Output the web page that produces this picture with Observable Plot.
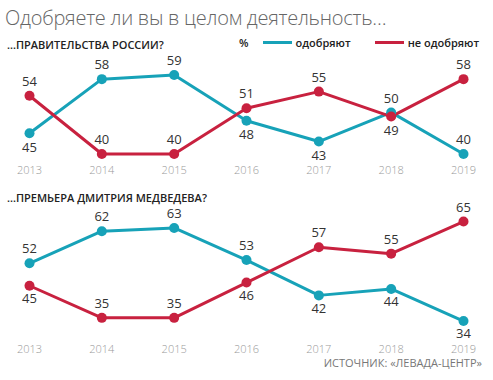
<!DOCTYPE html>
<html>
<head>
<meta charset="utf-8">
<script src="https://cdn.jsdelivr.net/npm/d3@7"></script>
<script src="https://cdn.jsdelivr.net/npm/@observablehq/plot@0.6"></script>
<style>
  body { margin: 0; background: #fff; font-family: "Open Sans", sans-serif; }
  #wrap { position: relative; width: 493px; height: 380px; overflow: hidden; }
  .abs { position: absolute; white-space: nowrap; }
  #title { left: 5px; top: 4px; font-size: 20px; font-weight: 300; color: #666; letter-spacing: -0.25px; }
  .sub { font-size: 11px; font-weight: 600; color: #222; z-index: 2; }
  #sub1 { left: 7px; top: 37px; }
  #sub2 { left: 7px; top: 190px; }
  #legend { left: 239px; top: 35px; font-size: 11px; font-weight: 600; color: #222; z-index: 2; display: flex; align-items: center; }
  .sw { display: inline-block; width: 29px; height: 3px; margin: 0 4px 0 5px; }
  #source { right: 11px; top: 356px; font-size: 11px; color: #777; font-weight: 400; line-height: 13px; }
  #p1 { left: 0; top: 52px; }
  #p2 { left: 0; top: 195px; }
</style>
</head>
<body>
<div id="wrap">
  <div id="title" class="abs">Одобряете ли вы в целом деятельность…</div>
  <div id="sub1" class="abs sub">…ПРАВИТЕЛЬСТВА РОССИИ?</div>
  <div id="legend" class="abs">
    <span style="margin-right:4px">%</span>
    <span class="sw" style="background:#17a2b8;margin-left:10px"></span><span>одобряют</span>
    <span class="sw" style="background:#c8213f;margin-left:24px"></span><span>не одобряют</span>
  </div>
  <div id="sub2" class="abs sub">…ПРЕМЬЕРА ДМИТРИЯ МЕДВЕДЕВА?</div>
  <div id="p1" class="abs"></div>
  <div id="p2" class="abs"></div>
  <div id="source" class="abs">ИСТОЧНИК: «ЛЕВАДА-ЦЕНТР»</div>
</div>
<script>
const years = [2013, 2014, 2015, 2016, 2017, 2018, 2019];
// Government
const govApprove    = [45, 58, 59, 48, 43, 50, 40];
const govDisapprove = [54, 40, 40, 51, 55, 49, 58];
const govApprovePos    = ["below", "above", "above", "below", "below", "above", "above"];
const govDisapprovePos = ["above", "above", "above", "above", "above", "below", "above"];
// Medvedev
const pmApprove    = [52, 62, 63, 53, 42, 44, 34];
const pmDisapprove = [45, 35, 35, 46, 57, 55, 65];
const pmApprovePos    = ["above", "above", "above", "above", "below", "below", "below"];
const pmDisapprovePos = ["below", "above", "above", "below", "above", "above", "above"];

const seriesNames = ["одобряют", "не одобряют"];
const colors = ["#17a2b8", "#c8213f"];

function rows(a, d, aPos, dPos) {
  const out = [];
  years.forEach((y, i) => {
    out.push({year: y, value: a[i], series: seriesNames[0], pos: aPos[i]});
    out.push({year: y, value: d[i], series: seriesNames[1], pos: dPos[i]});
  });
  return out;
}

function panel(data, yDomain, height, marginTop, marginBottom, tickPad, belowDy) {
  return Plot.plot({
    width: 493,
    height,
    marginLeft: 29,
    marginRight: 30,
    marginTop,
    marginBottom,
    style: {fontFamily: "Open Sans, sans-serif", background: "transparent"},
    x: {domain: [2013, 2019], label: null},
    y: {domain: yDomain, axis: null},
    color: {domain: seriesNames, range: colors},
    marks: [
      Plot.axisX({ticks: years, tickFormat: "d", tickSize: 0, tickPadding: tickPad, fontSize: 11, fill: "#9a9a9a", fontWeight: 300, label: null}),
      Plot.line(data, {x: "year", y: "value", stroke: "series", strokeWidth: 3}),
      Plot.dot(data, {x: "year", y: "value", fill: "series", r: 5}),
      Plot.text(data.filter(d => d.pos === "above"), {x: "year", y: "value", text: d => String(d.value), dy: -14, fontSize: 13, fill: "#333"}),
      Plot.text(data.filter(d => d.pos === "below"), {x: "year", y: "value", text: d => String(d.value), dy: belowDy, fontSize: 13, fill: "#333"})
    ]
  });
}

// panel 1: 24 units over 99.84px
document.getElementById("p1").appendChild(
  panel(rows(govApprove, govDisapprove, govApprovePos, govDisapprovePos), [38, 62], 125, 10, 15.16, 4.3, 14.5)
);
// panel 2: 40 units over 128.4px
document.getElementById("p2").appendChild(
  panel(rows(pmApprove, pmDisapprove, pmApprovePos, pmDisapprovePos), [30, 70], 160, 10, 21.6, 11.5, 13)
);
</script>
</body>
</html>
